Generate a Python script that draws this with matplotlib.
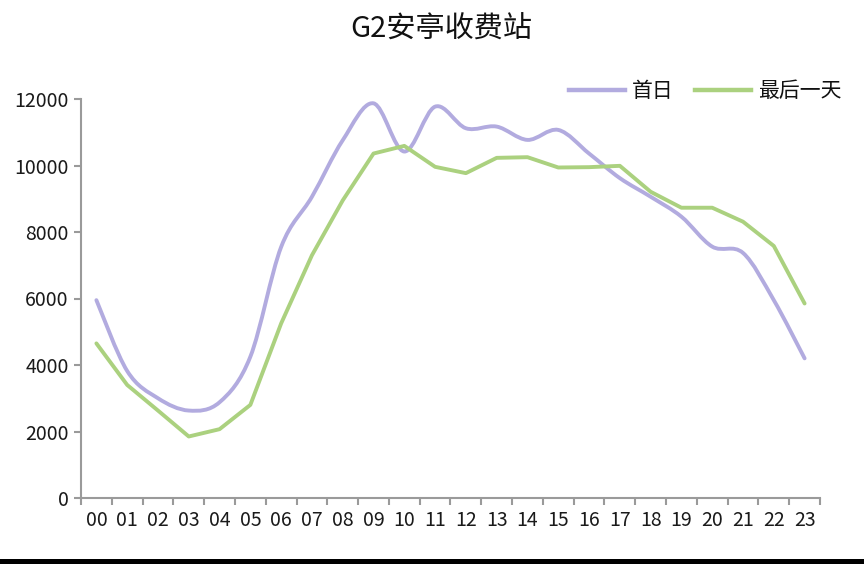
import matplotlib
matplotlib.use('Agg')
import matplotlib.pyplot as plt
from matplotlib.path import Path
from matplotlib.patches import PathPatch, Rectangle
from matplotlib.lines import Line2D
import numpy as np

plt.rcParams['font.family'] = ['Noto Sans CJK SC', 'DejaVu Sans']

# 数据
hours = [f"{h:02d}" for h in range(24)]
first_day = [5950, 3820, 3000, 2630, 2880, 4250, 7550, 9060, 10760, 11870,
             10420, 11770, 11120, 11170, 10770, 11070, 10360, 9620, 9060,
             8460, 7560, 7370, 5950, 4200]
last_day = [4650, 3400, 2630, 1850, 2070, 2800, 5250, 7300, 8950, 10360,
            10590, 9960, 9770, 10230, 10250, 9940, 9950, 9990, 9210, 8730,
            8730, 8310, 7580, 5850]
labels = ["首日", "最后一天"]
title = "G2安亭收费站"

PURPLE = "#b2abdf"
GREEN = "#abd17f"
AXIS = "#9a9a9a"


def smooth_path(xs, ys):
    """Catmull-Rom 平滑曲线, 转成三次贝塞尔."""
    pts = np.column_stack([xs, ys]).astype(float)
    n = len(pts)
    ext = np.vstack([pts[0], pts, pts[-1]])
    verts = [pts[0]]
    codes = [Path.MOVETO]
    for i in range(n - 1):
        p0, p1, p2, p3 = ext[i], ext[i + 1], ext[i + 2], ext[i + 3]
        c1 = p1 + (p2 - p0) / 6
        c2 = p2 - (p3 - p1) / 6
        verts += [c1, c2, p2]
        codes += [Path.CURVE4] * 3
    return Path(np.array(verts), codes)


fig = plt.figure(figsize=(8.64, 5.64), dpi=100)
ax = fig.add_axes([81 / 864, 66 / 564, (820 - 81) / 864, (498 - 99) / 564])

x = np.arange(len(hours))
ax.set_xlim(-0.5, len(hours) - 0.5)
ax.set_ylim(0, 12000)

ax.add_patch(PathPatch(smooth_path(x, first_day), facecolor='none',
                       edgecolor=PURPLE, lw=2.8, capstyle='round',
                       joinstyle='round', zorder=3))
ax.plot(x, last_day, color=GREEN, lw=2.8, solid_joinstyle='round',
        solid_capstyle='round', zorder=3)

for side in ['top', 'right']:
    ax.spines[side].set_visible(False)
for side in ['left', 'bottom']:
    ax.spines[side].set_color(AXIS)
    ax.spines[side].set_linewidth(1.5)

ax.set_yticks(range(0, 12001, 2000))
ax.tick_params(axis='y', length=5, width=1.5, color=AXIS, pad=4,
               labelsize=14, labelcolor='#1a1a1a')
ax.set_xticks(x)
ax.set_xticklabels(hours)
ax.set_xticks(np.arange(-0.5, len(hours)), minor=True)
ax.tick_params(axis='x', which='major', length=0, pad=9,
               labelsize=14, labelcolor='#1a1a1a')
ax.tick_params(axis='x', which='minor', length=5, width=1.5, color=AXIS)

fig.text(441 / 864, 1 - 30 / 564, title, ha='center', va='center',
         fontsize=21, fontweight='medium', color='#111111')

handles = [Line2D([], [], color=PURPLE, lw=3.2),
           Line2D([], [], color=GREEN, lw=3.2)]
fig.legend(handles, labels, loc='center right', ncol=2, frameon=False,
           bbox_to_anchor=(842 / 864, 1 - 91 / 564), fontsize=15,
           handlelength=2.7, handletextpad=0.35, columnspacing=1.0,
           borderpad=0, borderaxespad=0, labelcolor='#111111')

# 底部黑条
fig.add_artist(Rectangle((0, 0), 1, 5 / 564, transform=fig.transFigure,
                         facecolor='black', edgecolor='none'))

fig.savefig("out.png", dpi=100)
